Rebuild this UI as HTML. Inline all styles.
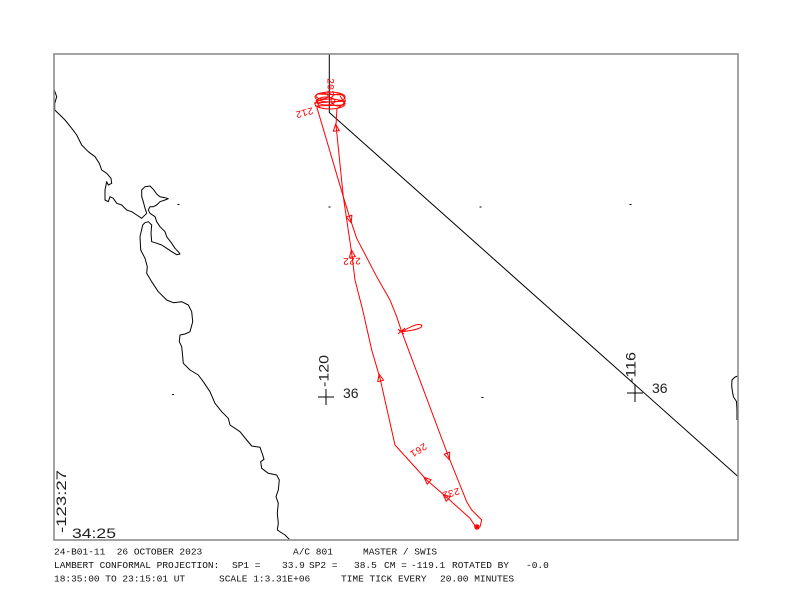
<!DOCTYPE html>
<html>
<head>
<meta charset="utf-8">
<style>
html,body{margin:0;padding:0;background:#fff;}
svg{display:block;}
text{white-space:pre;}
.bt{font-family:"Liberation Mono",monospace;font-size:9.5px;fill:#111;}
.lb{font-family:"Liberation Sans",sans-serif;font-size:14px;fill:#222;}
.rl{font-family:"Liberation Mono",monospace;font-size:10px;fill:#f00;}
</style>
</head>
<body>
<svg width="792" height="612" viewBox="0 0 792 612" xmlns="http://www.w3.org/2000/svg" xml:space="preserve">
<rect x="0" y="0" width="792" height="612" fill="#fff"/>

<!-- coastline -->
<g fill="none" stroke="#000" stroke-width="1" stroke-linejoin="round">
<path d="M54.3,90 L56.7,96.7 L54.7,103.3 L54.7,110 L60,115 L65,120 L71.7,128.3 L76.7,135 L81.7,145 L88.3,151.7 L95,156.7 L99.3,163.3 L101.7,170 L106.7,173.3 L111,178.3 L111.7,183.3 L108.3,185 L106.7,181.7 L105,190 L105,200 L108.3,201.7 L110,196.7 L113.3,198.3 L116.7,203.3 L121.7,205 L126.7,210 L131.7,211.7 L136.7,215 L141.7,218.3 L143.3,216.7 L146.7,213.3 L145,208.3 L143.3,201.7 L141.7,196.7 L141.7,190 L145,186.7 L150,186 L153.3,189.3 L156.7,194 L160,196.7 L165,197.7 L168.3,198.7 L165,200 L160,201.7 L156.7,205 L153.3,206.7 L150,206.7 L148.3,210 L150,213.3 L155,216.7 L156.7,221.7 L160,226.7 L165,231.7 L166.7,236.7 L171.7,243.3 L175,248.3 L178.3,251.7 L180,254 L176.7,254.7 L171.7,251.7 L166.7,248.3 L161.7,245 L155,242.7 L151.7,241.7 L151,233.3 L151.7,225 L148.3,221.7 L145,222.7 L142.7,225"/>
<path d="M142.7,225 L140,236.7 L140.7,250 L145,258.3 L147.3,266.7 L146.7,273.3 L151.7,281.7 L158.3,291.7 L166.7,300 L173.3,302.7 L181.7,301.7 L188.3,305 L191.7,311.7 L192.7,321.7 L190,331.7 L185,334 L180,335 L179.3,341.7 L181.7,346.7 L182.7,356.7 L183.3,363.3 L190,370 L198.3,375 L203.3,381.7 L210,391.7 L215,403.3 L221.7,411.7 L228.3,418.3 L230,425 L240,431.7 L246.7,440 L251.7,446 L260,447.3 L262.7,455 L264,459.3 L260.7,461.7 L261.7,468.3 L268.3,473.3 L276.7,475 L279.3,480 L278.3,490 L276,496.7 L278.3,503.3 L277.3,513.3 L278.3,523.3 L277.3,530 L285,535 L289.3,539.3"/>
<path d="M738,376 L735,377 L732,380 L731.7,386 L732.5,392 L733.5,397 L736.5,401.5 L737,410 L737,420"/>
<!-- black track line -->
<path d="M329.3,54 L329.3,112.5 L738,476.5"/>
</g>

<!-- grid dots -->
<g stroke="#000" stroke-width="1">
<line x1="177.5" y1="204.5" x2="179.5" y2="204.5"/>
<line x1="328.5" y1="207" x2="330.5" y2="207"/>
<line x1="479.5" y1="207" x2="481.5" y2="207"/>
<line x1="629.5" y1="204.5" x2="631.5" y2="204.5"/>
<line x1="172" y1="394.5" x2="174" y2="394.5"/>
<line x1="481.5" y1="397.5" x2="483.5" y2="397.5"/>
<!-- crosses -->
<line x1="318" y1="397" x2="334" y2="397"/>
<line x1="326" y1="389" x2="326" y2="405"/>
<line x1="627" y1="393" x2="643" y2="393"/>
<line x1="635" y1="384" x2="635" y2="402"/>
</g>

<!-- frame -->
<rect x="54" y="54" width="684" height="486" fill="none" stroke="#8c8c8c" stroke-width="1.6"/>

<!-- flight track -->
<g fill="none" stroke="#f00" stroke-width="1" stroke-linejoin="round">
<path d="M316.7,106.7 L343.3,196.7 L350,218.3 L356.7,238.3 L376.7,276.7 L390,300 L396.7,316.7 L401.7,331.7 L448.3,456 L466.7,501.7 L471.7,510 L481.7,520 L480,526.7 L476.7,528.3"/>
<path d="M476.7,528.3 L470,518.3 L446,496.7 L426.7,480 L395,445 L380,378.3 L371.7,350 L362.7,310 L355,280 L351.7,253.3 L343.3,196.7 L336,125 L337,108"/>
<path d="M401.7,331.7 C410,327 417,323 421.5,325 C424,328 414,330.5 401.7,331.7 Z"/>
<path d="M398,329 L404,334 M398,334 L405,328 M399,331 L406,331"/>
<!-- cluster -->
<ellipse cx="330" cy="97" rx="15" ry="5"/>
<ellipse cx="330" cy="104" rx="15" ry="5"/>
<ellipse cx="326" cy="101" rx="9" ry="4"/>
<ellipse cx="338" cy="100" rx="7" ry="6"/>
<ellipse cx="322" cy="96" rx="6" ry="3"/>
<path d="M314,103 L346,101 M315,106 L344,105 M318,94 L344,95 M340,96 L345,103 L338,108 M316,100 L320,108"/>
<!-- arrows -->
<polygon points="0,-4 3,3 -3,3" transform="translate(336,128) rotate(-6)"/>
<polygon points="0,-4 3,3 -3,3" transform="translate(350,219) rotate(162)"/>
<polygon points="0,-4 3,3 -3,3" transform="translate(352,254) rotate(-7)"/>
<polygon points="0,-4 3,3 -3,3" transform="translate(380,378) rotate(-13)"/>
<polygon points="0,-4 3,3 -3,3" transform="translate(448,456) rotate(159)"/>
<polygon points="0,-4 3,3 -3,3" transform="translate(427,480) rotate(-49)"/>
<polygon points="0,-4 3,3 -3,3" transform="translate(446,497) rotate(-48)"/>
<path d="M474,527 L480,527 M477,524 L477,530 M475,525 L479,529 M479,525 L475,529" stroke-width="1.3"/>
</g>

<!-- red time labels -->
<text class="rl" text-anchor="middle" transform="translate(330.5,87) rotate(90)" dy="3">202</text>
<text class="rl" text-anchor="middle" transform="translate(304.5,112.5) rotate(165)" dy="3">212</text>
<text class="rl" text-anchor="middle" transform="translate(352,261) rotate(178)" dy="3">222</text>
<text class="rl" text-anchor="middle" transform="translate(418.5,450) rotate(148)" dy="3">261</text>
<text class="rl" text-anchor="middle" transform="translate(451,493) rotate(165)" dy="3">232</text>

<!-- lat/lon labels -->
<text class="lb" x="343" y="398">36</text>
<text class="lb" x="652" y="393">36</text>
<text class="lb" transform="translate(328.5,387) rotate(-90)" textLength="32" lengthAdjust="spacingAndGlyphs">-120</text>
<text class="lb" transform="translate(635.5,383) rotate(-90)" textLength="31" lengthAdjust="spacingAndGlyphs">-116</text>
<text class="lb" transform="translate(66,533) rotate(-90)" textLength="63" lengthAdjust="spacingAndGlyphs">-123:27</text>
<text class="lb" x="72" y="538" textLength="44" lengthAdjust="spacingAndGlyphs">34:25</text>

<!-- bottom text -->
<text class="bt" x="54" y="554.5">24-B01-11  26 OCTOBER 2023</text>
<text class="bt" x="293" y="554.5">A/C 801</text>
<text class="bt" x="363" y="554.5">MASTER / SWIS</text>

<text class="bt" x="54" y="568">LAMBERT CONFORMAL PROJECTION:</text>
<text class="bt" x="232" y="568">SP1 =</text>
<text class="bt" x="282" y="568">33.9</text>
<text class="bt" x="309" y="568">SP2 =</text>
<text class="bt" x="354" y="568">38.5</text>
<text class="bt" x="384" y="568">CM =</text>
<text class="bt" x="411" y="568">-119.1</text>
<text class="bt" x="452" y="568">ROTATED BY</text>
<text class="bt" x="526" y="568">-0.0</text>

<text class="bt" x="54" y="581.5">18:35:00 TO 23:15:01 UT</text>
<text class="bt" x="219" y="581.5">SCALE 1:3.31E+06</text>
<text class="bt" x="341" y="581.5">TIME TICK EVERY</text>
<text class="bt" x="440" y="581.5">20.00 MINUTES</text>
</svg>
</body>
</html>
